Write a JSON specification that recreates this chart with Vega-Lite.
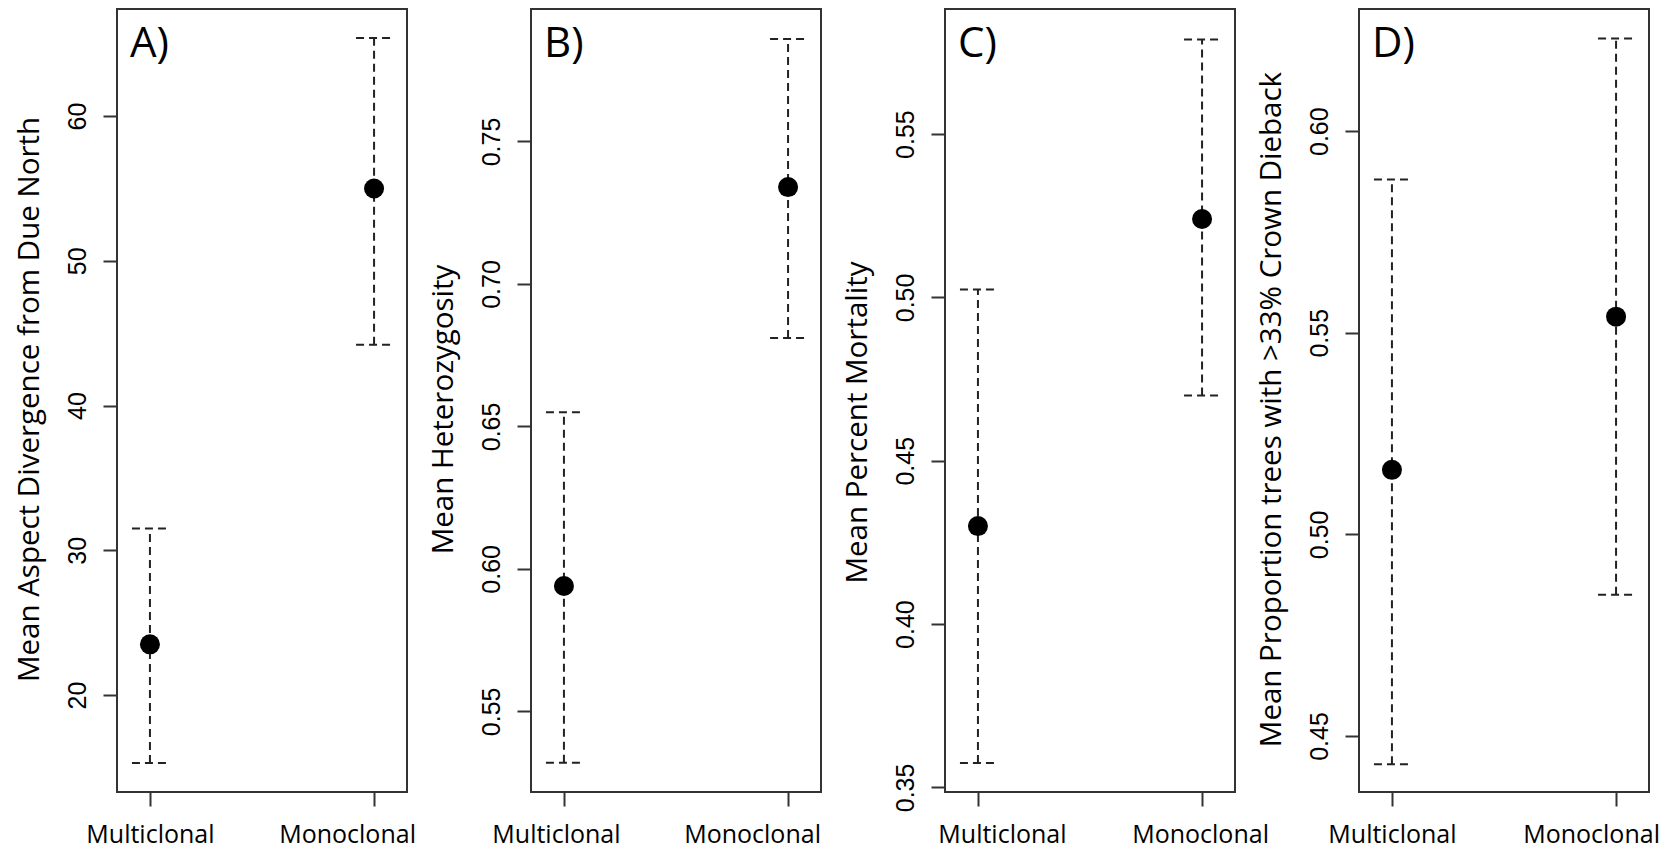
{
  "$schema": "https://vega.github.io/schema/vega-lite/v6.json",
  "padding": {"left": 13, "top": 8, "right": 5, "bottom": 0},
  "background": "white",
  "spacing": 124,
  "bounds": "flush",
  "config": {
    "view": {"stroke": "#333333", "strokeWidth": 2},
    "axis": {"grid": false, "domain": false, "tickColor": "#333333", "tickWidth": 2, "tickSize": 14, "labelColor": "black", "titleColor": "black"},
    "axisY": {"labelAngle": -90, "labelAlign": "center", "labelBaseline": "alphabetic", "labelPadding": 18, "labelFont": "Liberation Sans", "labelFontSize": 25, "labelFlush": false, "labelOverlap": false, "titleFont": "Open Sans", "titleFontSize": 29.5, "titleFontWeight": "normal", "titleX": -79, "titleAngle": -90, "titleAlign": "center", "titleBaseline": "alphabetic"},
    "axisX": {"labelAngle": 0, "labelFont": "Open Sans", "labelFontSize": 25, "labelBaseline": "alphabetic", "labelPadding": 36, "labelFlush": false, "labelOverlap": false},
    "title": {"anchor": "start", "frame": "group", "orient": "top", "offset": -57, "dx": 13, "font": "Open Sans", "fontSize": 42, "fontWeight": "normal", "baseline": "alphabetic", "color": "black"}
  },
  "datasets": {
    "A": [
      {"group": "Multiclonal", "mean": 23.5, "lower": 15.3, "upper": 31.5},
      {"group": "Monoclonal", "mean": 55.0, "lower": 44.2, "upper": 65.4}
    ],
    "B": [
      {"group": "Multiclonal", "mean": 0.594, "lower": 0.532, "upper": 0.655},
      {"group": "Monoclonal", "mean": 0.734, "lower": 0.681, "upper": 0.786}
    ],
    "C": [
      {"group": "Multiclonal", "mean": 0.430, "lower": 0.3575, "upper": 0.5024},
      {"group": "Monoclonal", "mean": 0.524, "lower": 0.470, "upper": 0.579}
    ],
    "D": [
      {"group": "Multiclonal", "mean": 0.516, "lower": 0.443, "upper": 0.588},
      {"group": "Monoclonal", "mean": 0.554, "lower": 0.485, "upper": 0.623}
    ]
  },
  "hconcat": [
    {
      "title": "A)",
      "width": 290, "height": 783,
      "data": {"name": "A"},
      "encoding": {"x": {"field": "group", "type": "nominal", "sort": ["Multiclonal", "Monoclonal"], "scale": {"type": "point", "padding": 0.147}, "axis": {"title": null, "labelOffset": {"condition": {"test": "datum.value === 'Monoclonal'", "value": -27}, "value": 0}}}},
      "layer": [
        {"mark": {"type": "rule", "strokeDash": [8, 5], "strokeWidth": 2, "color": "#222222"},
         "encoding": {"y": {"field": "lower", "type": "quantitative", "title": "Mean Aspect Divergence  from Due North", "scale": {"domain": [13.3, 67.4], "nice": false, "zero": false}, "axis": {"values": [20, 30, 40, 50, 60], "format": "d", "titleY": 390}}, "y2": {"field": "upper"}}},
        {"mark": {"type": "rule", "strokeDash": [8, 5], "strokeWidth": 2, "color": "#222222", "xOffset": -18, "x2Offset": 18},
         "encoding": {"x2": {"field": "group"}, "y": {"field": "upper", "type": "quantitative", "title": "Mean Aspect Divergence  from Due North"}}},
        {"mark": {"type": "rule", "strokeDash": [8, 5], "strokeWidth": 2, "color": "#222222", "xOffset": -18, "x2Offset": 18},
         "encoding": {"x2": {"field": "group"}, "y": {"field": "lower", "type": "quantitative", "title": "Mean Aspect Divergence  from Due North"}}},
        {"mark": {"type": "circle", "size": 400, "color": "black", "opacity": 1},
         "encoding": {"y": {"field": "mean", "type": "quantitative", "title": "Mean Aspect Divergence  from Due North"}}}
      ]
    },
    {
      "title": "B)",
      "width": 290, "height": 783,
      "data": {"name": "B"},
      "encoding": {"x": {"field": "group", "type": "nominal", "sort": ["Multiclonal", "Monoclonal"], "scale": {"type": "point", "padding": 0.147}, "axis": {"title": null, "labelOffset": {"condition": {"test": "datum.value === 'Monoclonal'", "value": -36}, "value": -8}}}},
      "layer": [
        {"mark": {"type": "rule", "strokeDash": [8, 5], "strokeWidth": 2, "color": "#222222"},
         "encoding": {"y": {"field": "lower", "type": "quantitative", "title": "Mean Heterozygosity", "scale": {"domain": [0.5217, 0.7965], "nice": false, "zero": false}, "axis": {"values": [0.55, 0.6, 0.65, 0.7, 0.75], "format": ".2f", "titleY": 400}}, "y2": {"field": "upper"}}},
        {"mark": {"type": "rule", "strokeDash": [8, 5], "strokeWidth": 2, "color": "#222222", "xOffset": -18, "x2Offset": 18},
         "encoding": {"x2": {"field": "group"}, "y": {"field": "upper", "type": "quantitative", "title": "Mean Heterozygosity"}}},
        {"mark": {"type": "rule", "strokeDash": [8, 5], "strokeWidth": 2, "color": "#222222", "xOffset": -18, "x2Offset": 18},
         "encoding": {"x2": {"field": "group"}, "y": {"field": "lower", "type": "quantitative", "title": "Mean Heterozygosity"}}},
        {"mark": {"type": "circle", "size": 400, "color": "black", "opacity": 1},
         "encoding": {"y": {"field": "mean", "type": "quantitative", "title": "Mean Heterozygosity"}}}
      ]
    },
    {
      "title": "C)",
      "width": 290, "height": 783,
      "data": {"name": "C"},
      "encoding": {"x": {"field": "group", "type": "nominal", "sort": ["Multiclonal", "Monoclonal"], "scale": {"type": "point", "padding": 0.147}, "axis": {"title": null, "labelOffset": {"condition": {"test": "datum.value === 'Multiclonal'", "value": 24}, "value": -2}}}},
      "layer": [
        {"mark": {"type": "rule", "strokeDash": [8, 5], "strokeWidth": 2, "color": "#222222"},
         "encoding": {"y": {"field": "lower", "type": "quantitative", "title": "Mean Percent  Mortality", "scale": {"domain": [0.3486, 0.5883], "nice": false, "zero": false}, "axis": {"values": [0.35, 0.4, 0.45, 0.5, 0.55], "format": ".2f", "titleY": 413}}, "y2": {"field": "upper"}}},
        {"mark": {"type": "rule", "strokeDash": [8, 5], "strokeWidth": 2, "color": "#222222", "xOffset": -18, "x2Offset": 18},
         "encoding": {"x2": {"field": "group"}, "y": {"field": "upper", "type": "quantitative", "title": "Mean Percent  Mortality"}}},
        {"mark": {"type": "rule", "strokeDash": [8, 5], "strokeWidth": 2, "color": "#222222", "xOffset": -18, "x2Offset": 18},
         "encoding": {"x2": {"field": "group"}, "y": {"field": "lower", "type": "quantitative", "title": "Mean Percent  Mortality"}}},
        {"mark": {"type": "circle", "size": 400, "color": "black", "opacity": 1},
         "encoding": {"y": {"field": "mean", "type": "quantitative", "title": "Mean Percent  Mortality"}}}
      ]
    },
    {
      "title": "D)",
      "width": 290, "height": 783,
      "data": {"name": "D"},
      "encoding": {"x": {"field": "group", "type": "nominal", "sort": ["Multiclonal", "Monoclonal"], "scale": {"type": "point", "padding": 0.147}, "axis": {"title": null, "labelOffset": {"condition": {"test": "datum.value === 'Monoclonal'", "value": -25}, "value": 0}}}},
      "layer": [
        {"mark": {"type": "rule", "strokeDash": [8, 5], "strokeWidth": 2, "color": "#222222"},
         "encoding": {"y": {"field": "lower", "type": "quantitative", "title": "Mean Proportion trees with >33% Crown Dieback", "scale": {"domain": [0.4361, 0.6303], "nice": false, "zero": false}, "axis": {"values": [0.45, 0.5, 0.55, 0.6], "format": ".2f", "titleY": 400}}, "y2": {"field": "upper"}}},
        {"mark": {"type": "rule", "strokeDash": [8, 5], "strokeWidth": 2, "color": "#222222", "xOffset": -18, "x2Offset": 18},
         "encoding": {"x2": {"field": "group"}, "y": {"field": "upper", "type": "quantitative", "title": "Mean Proportion trees with >33% Crown Dieback"}}},
        {"mark": {"type": "rule", "strokeDash": [8, 5], "strokeWidth": 2, "color": "#222222", "xOffset": -18, "x2Offset": 18},
         "encoding": {"x2": {"field": "group"}, "y": {"field": "lower", "type": "quantitative", "title": "Mean Proportion trees with >33% Crown Dieback"}}},
        {"mark": {"type": "circle", "size": 400, "color": "black", "opacity": 1},
         "encoding": {"y": {"field": "mean", "type": "quantitative", "title": "Mean Proportion trees with >33% Crown Dieback"}}}
      ]
    }
  ]
}
